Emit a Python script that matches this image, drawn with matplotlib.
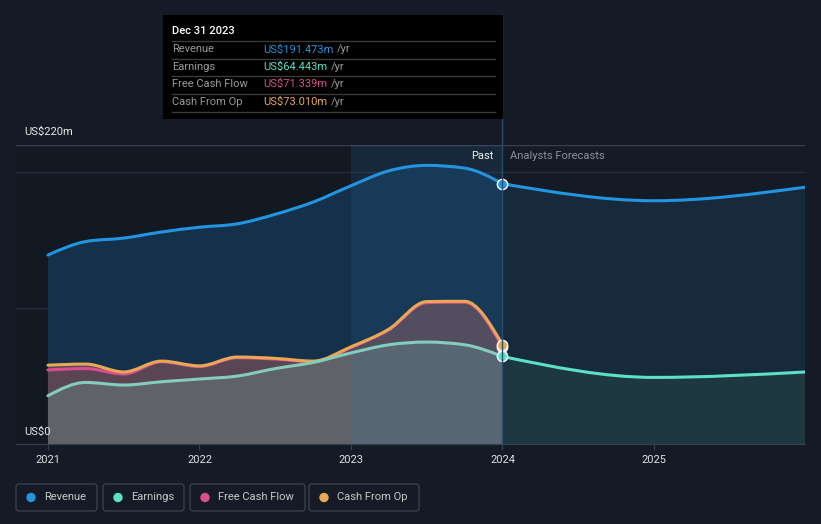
import matplotlib
matplotlib.use("Agg")
import matplotlib.pyplot as plt
import numpy as np
from matplotlib.path import Path
from matplotlib.patches import PathPatch, FancyBboxPatch, Rectangle, Circle
from matplotlib.transforms import Affine2D
from matplotlib.lines import Line2D

plt.rcParams['font.family'] = ['Roboto', 'DejaVu Sans']

W, H = 821, 524

# quarterly history, US$m
past_t = [2021.0, 2021.25, 2021.5, 2021.75, 2022.0, 2022.25, 2022.5,
          2022.75, 2023.0, 2023.25, 2023.5, 2023.75, 2024.0]
revenue_past = [139, 149, 151.5, 156, 159.5, 162, 169, 178, 190, 201, 205, 203, 191.5]
earnings_past = [35.5, 45.3, 43.4, 45.8, 47.8, 50, 55.5, 60, 67, 73, 75, 73, 64.4]
fcf_past = [54.5, 55.5, 51.5, 60.5, 57, 63.5, 62.5, 60.5, 71, 84, 104, 104.3, 71.3]
cfo_past = [58, 58.8, 53, 61, 57.5, 64, 63, 61, 71.5, 84.5, 104.8, 105, 73.0]

# analyst forecasts
fc_t = [2024.0, 2025.0, 2026.0]
revenue_fc = [191.5, 179, 189]
earnings_fc = [64.4, 49, 53]

years = [2021, 2022, 2023, 2024, 2025]

BG = '#151b26'
C_REV = '#2394df'
C_EARN = '#5ce0c6'
C_FCF = '#d94f8e'
C_CFO = '#e8a854'


def monotone_tangents(x, y):
    x = np.asarray(x, float)
    y = np.asarray(y, float)
    n = len(x)
    h = np.diff(x)
    s = np.diff(y) / h
    m = np.zeros(n)
    for i in range(1, n - 1):
        p = (s[i - 1] * h[i] + s[i] * h[i - 1]) / (h[i - 1] + h[i])
        m[i] = (np.sign(s[i - 1]) + np.sign(s[i])) * min(abs(s[i - 1]), abs(s[i]), 0.5 * abs(p))
    m[0] = (3 * s[0] - m[1]) / 2 if n > 2 else s[0]
    m[-1] = (3 * s[-1] - m[-2]) / 2 if n > 2 else s[-1]
    return m


def curve_verts(x, y):
    # cubic bezier segments, like d3 curveMonotoneX
    m = monotone_tangents(x, y)
    verts = [(x[0], y[0])]
    codes = [Path.MOVETO]
    for i in range(len(x) - 1):
        dx = (x[i + 1] - x[i]) / 3
        verts += [(x[i] + dx, y[i] + m[i] * dx),
                  (x[i + 1] - dx, y[i + 1] - m[i + 1] * dx),
                  (x[i + 1], y[i + 1])]
        codes += [Path.CURVE4] * 3
    return verts, codes


def add_line(ax, x, y, color, lw=2.2, z=5):
    v, c = curve_verts(x, y)
    ax.add_patch(PathPatch(Path(v, c), fill=False, edgecolor=color, lw=lw,
                           capstyle='round', joinstyle='round', zorder=z))


def add_area(ax, x, y, color, z=2, alpha=1.0):
    v, c = curve_verts(x, y)
    v = [(x[0], 0)] + v + [(x[-1], 0), (x[0], 0)]
    c = [Path.MOVETO] + [Path.LINETO] + c[1:] + [Path.LINETO, Path.CLOSEPOLY]
    ax.add_patch(PathPatch(Path(v, c), facecolor=color, edgecolor='none',
                           alpha=alpha, zorder=z))


fig = plt.figure(figsize=(W / 100, H / 100), dpi=100, facecolor=BG)
ax = fig.add_axes([16 / W, (H - 444) / H, 789 / W, 299 / H])
ax.set_facecolor(BG)
ax.set_xlim(2020.789, 2025.997)
ax.set_ylim(0, 220)

ax.axvspan(2020.789, 2023, color='#131923', zorder=0, lw=0)

# areas
add_area(ax, past_t, revenue_past, '#15304a', z=1)
add_area(ax, fc_t, revenue_fc, '#172a3c', z=1)
add_area(ax, past_t, cfo_past, '#584a53', z=2)
add_area(ax, past_t, fcf_past, '#5a4652', z=2.1)
add_area(ax, past_t, earnings_past, '#5f6367', z=2.2)
add_area(ax, fc_t, earnings_fc, '#1e3842', z=2.2)

# past-year highlight
ax.axvspan(2023, 2024, color='#2a80c4', alpha=0.13, zorder=3, lw=0)

# grid
for v, col in [(100, '#252c37'), (200, '#252c37'), (220, '#3a404b')]:
    ax.axhline(v, color=col, lw=1, zorder=0.5)

# lines
add_line(ax, past_t, revenue_past, C_REV)
add_line(ax, fc_t, revenue_fc, C_REV)
add_line(ax, past_t, fcf_past, C_FCF, z=5.1)
add_line(ax, past_t, cfo_past, C_CFO, z=5.2)
add_line(ax, past_t, earnings_past, '#84cdbd', z=5.3)
add_line(ax, fc_t, earnings_fc, C_EARN, z=5.3)

ax.scatter([2024], [revenue_past[-1]], s=55, color=C_REV, edgecolor='white', lw=1, zorder=7)
ax.scatter([2024], [fcf_past[-1]], s=55, color=C_FCF, edgecolor='white', lw=1, zorder=7)
ax.scatter([2024], [cfo_past[-1]], s=55, color=C_CFO, edgecolor='white', lw=1, zorder=7.1)
ax.scatter([2024], [earnings_past[-1]], s=55, color=C_EARN, edgecolor='white', lw=1, zorder=7.2)

for s in ['top', 'right', 'left']:
    ax.spines[s].set_visible(False)
ax.spines['bottom'].set_color('#3a404b')
ax.set_yticks([])
ax.set_xticks(years)
ax.set_xticklabels([str(y) for y in years])
ax.tick_params(axis='x', colors='#3a404b', length=4, pad=4, labelcolor='#e0e0e0', labelsize=8)

# pixel-space helpers (origin top-left)
T = Affine2D().scale(1, -1).translate(0, H)


def ptext(x, y, s, **kw):
    kw.setdefault('va', 'center')
    fig.text(x, y, s, transform=T, **kw)


ptext(24, 132, 'US$220m', color='#e8e8e8', fontsize=8)
ptext(24, 432, 'US$0', color='#e8e8e8', fontsize=8)
ptext(494, 156, 'Past', color='#f0f0f0', fontsize=8, ha='right')
ptext(510, 156, 'Analysts Forecasts', color='#8a8f98', fontsize=8)

# tooltip
fig.add_artist(Line2D([502, 502], [15, 444], transform=T, color='#2b4d6a', lw=1, zorder=1))
fig.add_artist(Rectangle((163, 15), 340, 104, transform=T, facecolor='#000000',
                         edgecolor='none', zorder=2))
ptext(172, 31, 'Dec 31 2023', color='white', fontsize=8, fontweight='medium', zorder=3)
rows = [('Revenue', 'US$191.473m', C_REV), ('Earnings', 'US$64.443m', C_EARN),
        ('Free Cash Flow', 'US$71.339m', C_FCF), ('Cash From Op', 'US$73.010m', C_CFO)]
sep_y = [41, 58.5, 76, 93.5, 111.5]
for yy in sep_y:
    fig.add_artist(Line2D([172, 495], [yy, yy], transform=T, color='#3a3a3a', lw=1, zorder=3))
for i, (lab, val, col) in enumerate(rows):
    y = 49.5 + i * 17.4
    ptext(172, y, lab, color='#9a9a9a', fontsize=8, zorder=3)
    t = fig.text(263, y, val, transform=T, color=col, fontsize=8, va='center', zorder=3)
    fig.canvas.draw()
    bb = t.get_window_extent()
    ptext(bb.x1 + 4, y, '/yr', color='#9a9a9a', fontsize=8, zorder=3)

# legend
legend = [('Revenue', C_REV, 16, 97), ('Earnings', C_EARN, 103, 184),
          ('Free Cash Flow', C_FCF, 190, 305), ('Cash From Op', C_CFO, 309, 419)]
for lab, col, x0, x1 in legend:
    fig.add_artist(FancyBboxPatch((x0, 484), x1 - x0, 27, boxstyle='round,pad=0,rounding_size=3',
                                  transform=T, facecolor='none', edgecolor='#3a404b', lw=1))
    fig.add_artist(Circle((x0 + 15, 497.5), 4, transform=T, color=col))
    ptext(x0 + 28, 497.5, lab, color='#c8c8c8', fontsize=8)

fig.savefig('out.png', dpi=100, facecolor=BG)
